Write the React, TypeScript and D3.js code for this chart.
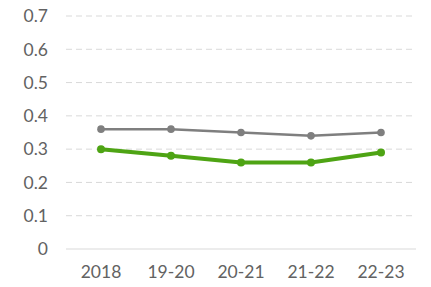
import React from "react";
import * as d3 from "d3";

const categories = ["2018", "19-20", "20-21", "21-22", "22-23"];
const grayValues = [0.36, 0.36, 0.35, 0.34, 0.35];
const greenValues = [0.3, 0.28, 0.26, 0.26, 0.29];
const yTicks = [0, 0.1, 0.2, 0.3, 0.4, 0.5, 0.6, 0.7];

export default function App() {
  const W = 431, H = 287;
  const left = 66, right = 416, top = 16, bottom = 249;
  const x = d3.scaleBand<string>().domain(categories).range([left, right]);
  const y = d3.scaleLinear().domain([0, 0.7]).range([bottom, top]);
  const cx = (c: string) => (x(c) as number) + x.bandwidth() / 2;
  const line = d3.line<number>().x((_, i) => cx(categories[i])).y((d) => y(d));
  const font = "Lato, 'Open Sans', sans-serif";
  return (
    <svg width={W} height={H} style={{ position: "absolute", left: 0, top: 0 }}>
      <rect width={W} height={H} fill="#fff" />
      {yTicks.map((t) => (
        <g key={t}>
          <line x1={left} x2={right} y1={y(t)} y2={y(t)} stroke="#d9d9d9" strokeWidth={1}
            strokeDasharray={t === 0 ? undefined : "6 4"} />
          <text x={48} y={y(t)} dy="0.36em" textAnchor="end" fontFamily={font} fontSize={17.5} fill="#626262">
            {d3.format("")(t)}
          </text>
        </g>
      ))}
      {categories.map((c) => (
        <text key={c} x={cx(c)} y={272} dy="0.36em" textAnchor="middle" fontFamily={font} fontSize={17.5} fill="#626262">
          {c}
        </text>
      ))}
      <path d={line(grayValues) || ""} fill="none" stroke="#7f7f7f" strokeWidth={2.5} />
      {grayValues.map((v, i) => (
        <circle key={i} cx={cx(categories[i])} cy={y(v)} r={3.8} fill="#7f7f7f" />
      ))}
      <path d={line(greenValues) || ""} fill="none" stroke="#4ea414" strokeWidth={4} strokeLinejoin="round" />
      {greenValues.map((v, i) => (
        <circle key={i} cx={cx(categories[i])} cy={y(v)} r={4} fill="#4ea414" />
      ))}
    </svg>
  );
}
